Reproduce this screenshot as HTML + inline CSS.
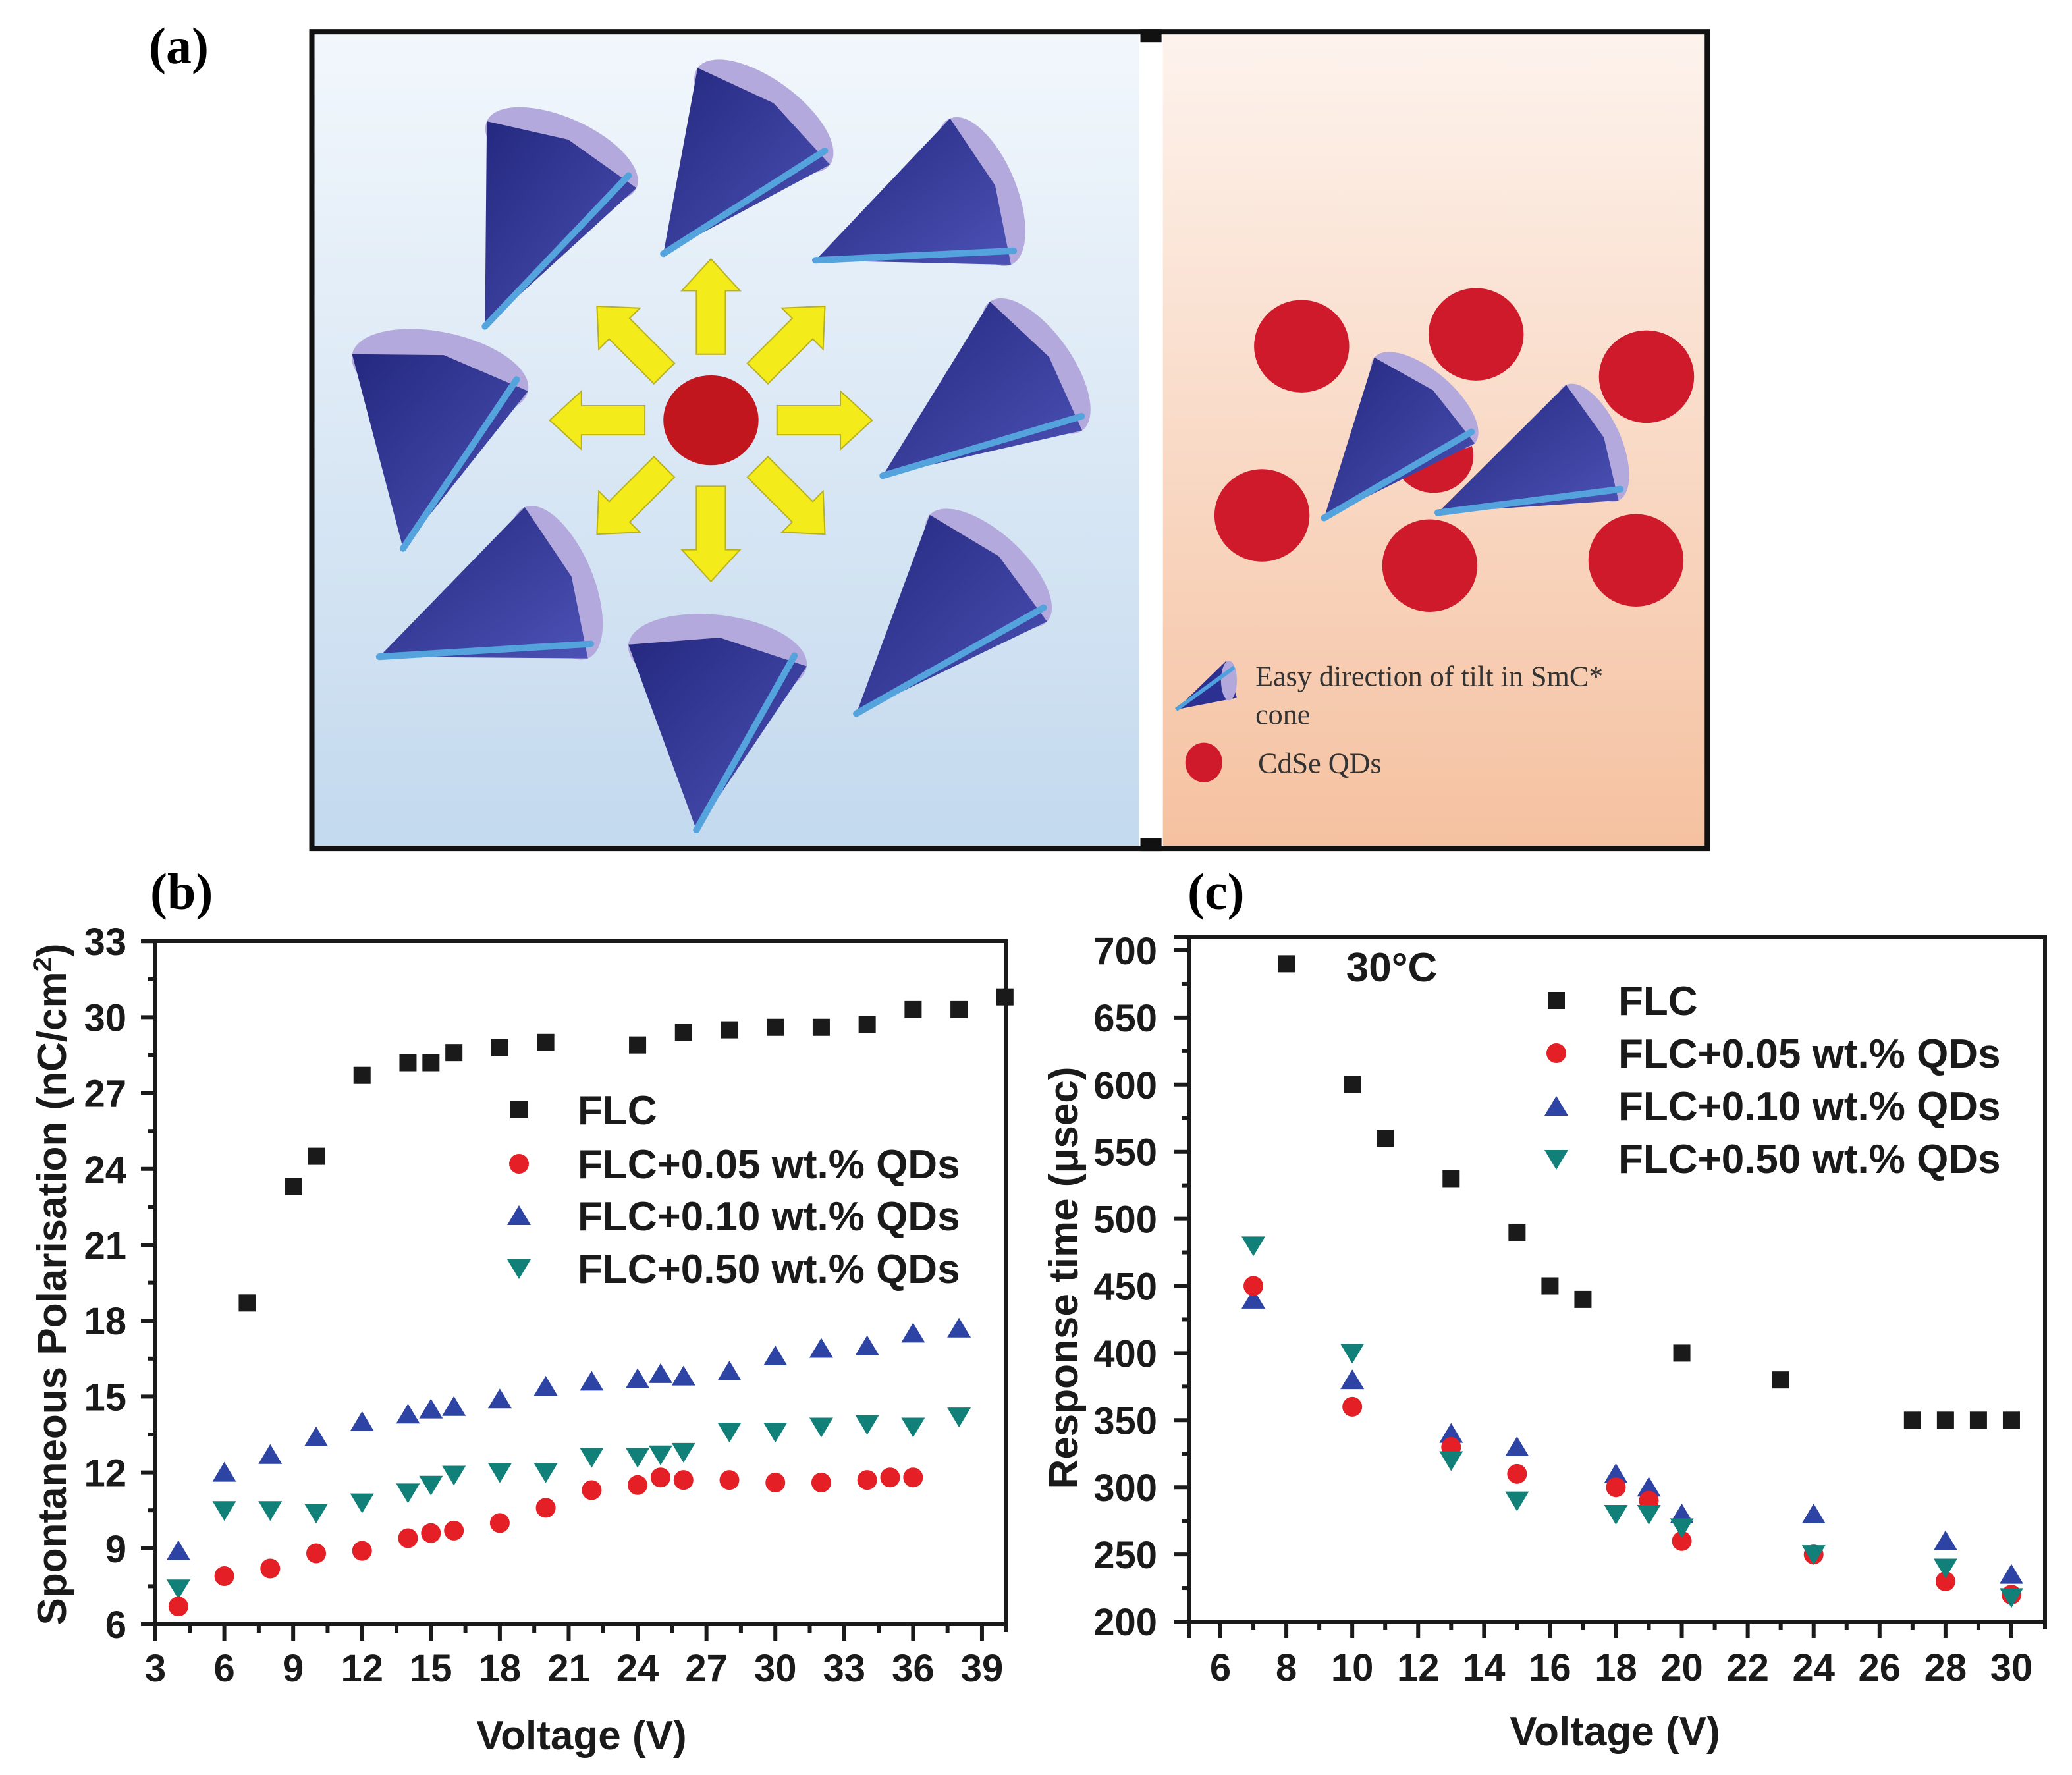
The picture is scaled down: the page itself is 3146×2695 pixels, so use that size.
<!DOCTYPE html>
<html><head><meta charset="utf-8">
<style>
html,body{margin:0;padding:0;background:#fff;overflow:hidden;}
svg{display:block;}
.tk{font-family:"Liberation Sans",Arial,sans-serif;font-weight:bold;font-size:58px;fill:#1a1a1a;}
.lg{font-family:"Liberation Sans",Arial,sans-serif;font-weight:bold;font-size:62px;fill:#1a1a1a;}
.ser{font-family:"Liberation Serif","Times New Roman",serif;}
</style></head>
<body>
<svg id="fig" xmlns="http://www.w3.org/2000/svg" width="3146" height="2695" viewBox="0 0 3146 2695">
<defs>
<linearGradient id="gBlue" x1="0" y1="0" x2="0" y2="1"><stop offset="0" stop-color="#f2f7fc"/><stop offset="1" stop-color="#c3d9ee"/></linearGradient>
<linearGradient id="gPeach" x1="0" y1="0" x2="0" y2="1"><stop offset="0" stop-color="#fdf3ed"/><stop offset="1" stop-color="#f5c1a0"/></linearGradient>
<linearGradient id="gCone" x1="0" y1="0" x2="1" y2="1"><stop offset="0" stop-color="#24287f"/><stop offset="1" stop-color="#4c52b5"/></linearGradient>
</defs>
<rect width="3146" height="2695" fill="#fff"/>

<!-- Panel a -->
<g>
<text class="ser" x="226" y="96" font-size="78" font-weight="bold">(a)</text>
<g transform="scale(2.0064)" id="panelA">
<rect x="236" y="24" width="626" height="618" fill="url(#gBlue)"/>
<rect x="880" y="24" width="412" height="618" fill="url(#gPeach)"/>
<rect x="862" y="24" width="18" height="618" fill="#fff"/>
<rect x="236" y="24" width="1056" height="618" fill="none" stroke="#111" stroke-width="4"/>
<rect x="863" y="22" width="16" height="10" fill="#111"/>
<rect x="863" y="634" width="16" height="10" fill="#111"/>
<g id="arrows"></g>
<ellipse cx="538" cy="318" rx="36" ry="34" fill="#c1161e"/>
<g id="qds">
<ellipse cx="985" cy="262" rx="36" ry="35" fill="#cf1a2c"/>
<ellipse cx="1117" cy="253" rx="36" ry="35" fill="#cf1a2c"/>
<ellipse cx="1246" cy="285" rx="36" ry="35" fill="#cf1a2c"/>
<ellipse cx="1085" cy="345" rx="30" ry="28" fill="#cf1a2c"/>
<ellipse cx="955" cy="390" rx="36" ry="35" fill="#cf1a2c"/>
<ellipse cx="1082" cy="428" rx="36" ry="35" fill="#cf1a2c"/>
<ellipse cx="1238" cy="424" rx="36" ry="35" fill="#cf1a2c"/>
</g>
<g id="cones"></g>
<g>
<polygon points="890,537 928,500 936,528" fill="#2b3091"/>
<ellipse cx="930" cy="515" rx="6" ry="15" fill="#b3a8dc"/>
<line x1="890" y1="537" x2="934" y2="505" stroke="#4fa0dc" stroke-width="3"/>
<text class="ser" x="950" y="519" font-size="22" fill="#333">Easy direction of tilt in SmC*</text>
<text class="ser" x="950" y="548" font-size="22" fill="#333">cone</text>
<ellipse cx="911" cy="577" rx="14" ry="15" fill="#cf1a2c"/>
<text class="ser" x="952" y="585" font-size="22" fill="#333">CdSe QDs</text>
</g>
</g>
</g>

<!-- Panel b -->
<g>
<text class="ser" x="228" y="1380" font-size="78" font-weight="bold">(b)</text>
<g id="axesB"></g>
<g id="marksB"></g>
<text class="lg" transform="translate(100,1950) rotate(-90)" text-anchor="middle" font-size="56">Spontaneous Polarisation (nC/cm<tspan font-size="40" dy="-22">2</tspan><tspan dy="22">)</tspan></text>
<text class="lg" x="883" y="2656" text-anchor="middle" font-size="62">Voltage (V)</text>
<g>
<rect x="775" y="1672" width="26" height="26" fill="#1a1a1a"/>
<text class="lg" x="877" y="1707">FLC</text>
<circle cx="788" cy="1767" r="15" fill="#e41f26"/>
<text class="lg" x="877" y="1789">FLC+0.05 wt.% QDs</text>
<polygon points="788,1830 770,1860 806,1860" fill="#2e44a4"/>
<text class="lg" x="877" y="1868">FLC+0.10 wt.% QDs</text>
<polygon points="770,1912 806,1912 788,1942" fill="#118078"/>
<text class="lg" x="877" y="1948">FLC+0.50 wt.% QDs</text>
</g>
</g>

<!-- Panel c -->
<g>
<text class="ser" x="1803" y="1380" font-size="78" font-weight="bold">(c)</text>
<g id="axesC"></g>
<g id="marksC"></g>
<text class="lg" transform="translate(1636,1940) rotate(-90)" text-anchor="middle" font-size="58">Response time (μsec)</text>
<text class="lg" x="2452" y="2650" text-anchor="middle" font-size="62">Voltage (V)</text>
<text class="lg" x="2113" y="1490" text-anchor="middle" font-size="56">30°C</text>
<g>
<rect x="2350" y="1506" width="26" height="26" fill="#1a1a1a"/>
<text class="lg" x="2457" y="1541">FLC</text>
<circle cx="2363" cy="1599" r="15" fill="#e41f26"/>
<text class="lg" x="2457" y="1621">FLC+0.05 wt.% QDs</text>
<polygon points="2363,1664 2345,1694 2381,1694" fill="#2e44a4"/>
<text class="lg" x="2457" y="1701">FLC+0.10 wt.% QDs</text>
<polygon points="2345,1746 2381,1746 2363,1776" fill="#118078"/>
<text class="lg" x="2457" y="1781">FLC+0.50 wt.% QDs</text>
</g>
</g>
</svg>

<script>
// ---------- Panel b data ----------
const bFlcX = [7,9,10,12,14,15,16,18,20,24,26,28,30,32,34,36,38,40];
const bFlcY = [18.7,23.3,24.5,27.7,28.2,28.2,28.6,28.8,29.0,28.9,29.4,29.5,29.6,29.6,29.7,30.3,30.3,30.8];
const b005X = [4,6,8,10,12,14,15,16,18,20,22,24,25,26,28,30,32,34,35,36];
const b005Y = [6.7,7.9,8.2,8.8,8.9,9.4,9.6,9.7,10.0,10.6,11.3,11.5,11.8,11.7,11.7,11.6,11.6,11.7,11.8,11.8];
const b010X = [4,6,8,10,12,14,15,16,18,20,22,24,25,26,28,30,32,34,36,38];
const b010Y = [8.9,12.0,12.7,13.4,14.0,14.3,14.5,14.6,14.9,15.4,15.6,15.7,15.9,15.8,16.0,16.6,16.9,17.0,17.5,17.7];
const b050X = [4,6,8,10,12,14,15,16,18,20,22,24,25,26,28,30,32,34,36,38];
const b050Y = [7.4,10.5,10.5,10.4,10.8,11.2,11.5,11.9,12.0,12.0,12.6,12.6,12.7,12.8,13.6,13.6,13.8,13.9,13.8,14.2];
const bXTicks = [3,6,9,12,15,18,21,24,27,30,33,36,39];
const bYTicks = [6,9,12,15,18,21,24,27,30,33];

// ---------- Panel c data ----------
const cFlcX = [8,10,11,13,15,16,17,20,23,27,28,29,30];
const cFlcY = [690,600,560,530,490,450,440,400,380,350,350,350,350];
const c005X = [7,10,13,15,18,19,20,24,28,30];
const c005Y = [450,360,330,310,300,290,260,250,230,220];
const c010X = [7,10,13,15,18,19,20,24,28,30];
const c010Y = [440,380,340,330,310,300,280,280,260,235];
const c050X = [7,10,13,15,18,19,20,24,28,30];
const c050Y = [480,400,320,290,280,280,270,250,240,218];
const cXTicks = [6,8,10,12,14,16,18,20,22,24,26,28,30];
const cYTicks = [200,250,300,350,400,450,500,550,600,650,700];

const NS = "http://www.w3.org/2000/svg";
function mk(tag, attrs, parent){ const e=document.createElementNS(NS,tag); for(const k in attrs) e.setAttribute(k,attrs[k]); parent.appendChild(e); return e; }

const xB = v => 236 + (v-3)*34.86;
const yB = v => 2466 - (v-6)*38.4;
const xC = v => 1853 + (v-6)*50.04;
const yC = v => 2462 - (v-200)*2.038;

function drawAxes(g, L, R, T, B, xs, ys, xTicks, yTicks, xMinor, yMinor, yLabX, xLabY, xMax, yMax){
  const frame = mk('rect',{x:L,y:T,width:R-L,height:B-T,fill:'none',stroke:'#1a1a1a','stroke-width':6},g);
  
  
  mk('line',{x1:L-22,y1:T,x2:L,y2:T,stroke:'#1a1a1a','stroke-width':6},g);
  mk('line',{x1:L-22,y1:B,x2:L,y2:B,stroke:'#1a1a1a','stroke-width':6},g);
  mk('line',{x1:L,y1:B,x2:L,y2:B+25,stroke:'#1a1a1a','stroke-width':6},g);
  mk('line',{x1:R,y1:B,x2:R,y2:B+12,stroke:'#1a1a1a','stroke-width':6},g);
  xTicks.forEach(v=>{
    const x=xs(v);
    mk('line',{x1:x,y1:B,x2:x,y2:B+25,stroke:'#1a1a1a','stroke-width':6},g);
    const t=mk('text',{x:x,y:xLabY,'text-anchor':'middle',class:'tk'},g);
    t.textContent=v;
    
    
  });
  for(let v=xTicks[0]+xMinor; v<xMax; v+=xMinor*2){
    const x=xs(v);
    mk('line',{x1:x,y1:B,x2:x,y2:B+13,stroke:'#1a1a1a','stroke-width':6},g);
  }
  yTicks.forEach(v=>{
    const y=ys(v);
    mk('line',{x1:L-22,y1:y,x2:L,y2:y,stroke:'#1a1a1a','stroke-width':6},g);
    const t=mk('text',{x:yLabX,y:y+21,'text-anchor':'end',class:'tk'},g);
    t.textContent=v;
    
    
  });
  for(let v=yTicks[0]+yMinor; v<yMax; v+=yMinor*2){
    const y=ys(v);
    mk('line',{x1:L-11,y1:y,x2:L,y2:y,stroke:'#1a1a1a','stroke-width':6},g);
  }
}

function square(g,x,y){ const e=mk('rect',{x:x-13,y:y-13,width:26,height:26,fill:'#1a1a1a'},g);   }
function circ(g,x,y){ const e=mk('circle',{cx:x,cy:y,r:15,fill:'#e41f26'},g);   }
function up(g,x,y){ const e=mk('polygon',{points:`${x},${y-16} ${x-18},${y+14} ${x+18},${y+14}`,fill:'#2e44a4'},g);   }
function dn(g,x,y){ const e=mk('polygon',{points:`${x-18},${y-14} ${x+18},${y-14} ${x},${y+16}`,fill:'#118078'},g);   }

const gAB=document.getElementById('axesB');
drawAxes(gAB,236,1527,1429,2466,xB,yB,bXTicks,bYTicks,1.5,1.5,192,2553,40,33);
const gMB=document.getElementById('marksB');
b050X.forEach((v,i)=>dn(gMB,xB(v),yB(b050Y[i])));
b010X.forEach((v,i)=>up(gMB,xB(v),yB(b010Y[i])));
b005X.forEach((v,i)=>circ(gMB,xB(v),yB(b005Y[i])));
bFlcX.forEach((v,i)=>square(gMB,xB(v),yB(bFlcY[i])));

const gAC=document.getElementById('axesC');
drawAxes(gAC,1805,3105,1423,2462,xC,yC,cXTicks,cYTicks,1,25,1757,2552,31,710);
const gMC=document.getElementById('marksC');
c010X.forEach((v,i)=>up(gMC,xC(v),yC(c010Y[i])));
c005X.forEach((v,i)=>circ(gMC,xC(v),yC(c005Y[i])));
c050X.forEach((v,i)=>dn(gMC,xC(v),yC(c050Y[i])));
cFlcX.forEach((v,i)=>square(gMC,xC(v),yC(cFlcY[i])));

const gArr=document.getElementById('arrows');
for(let k=0;k<8;k++){
  const g=mk('g',{transform:`translate(538,318) rotate(${k*45})`},gArr);
  mk('polygon',{points:'50,-11 98,-11 98,-22 122,0 98,22 98,11 50,11',fill:'#f4ec1a',stroke:'#b8b020','stroke-width':1},g);
}
const cones=[
 [367,247,425,117,62],[502,192,578,88,62],[617,197,742,145,60],[668,360,784,277,60],
 [305,415,333,282,68],[287,497,421,441,62],[527,628,543,496,68],[648,540,748,430,60],
 [1002,392,1078,303,50],[1088,388,1205,335,48]
];
const gC=document.getElementById('cones');
cones.forEach(c=>{
  const [ax,ay,bx,by,r]=c;
  const dx=bx-ax, dy=by-ay, L=Math.hypot(dx,dy);
  const px=-dy/L, py=dx/L;
  const ang=Math.atan2(dy,dx)*180/Math.PI;
  const g=mk('g',{},gC);
  
  
  mk('ellipse',{cx:bx,cy:by,rx:r*0.45,ry:r,transform:`rotate(${ang} ${bx} ${by})`,fill:'#b4a9dc'},g);
  mk('polygon',{points:`${ax},${ay} ${bx+px*r},${by+py*r} ${bx+dx/L*r*0.2},${by+dy/L*r*0.2} ${bx-px*r},${by-py*r}`,fill:'url(#gCone)'},g);
  mk('line',{x1:ax,y1:ay,x2:bx+px*r*0.85+dx/L*r*0.1,y2:by+py*r*0.85+dy/L*r*0.1,stroke:'#55a3dd','stroke-width':5,'stroke-linecap':'round'},g);
});
</script>
</body></html>
